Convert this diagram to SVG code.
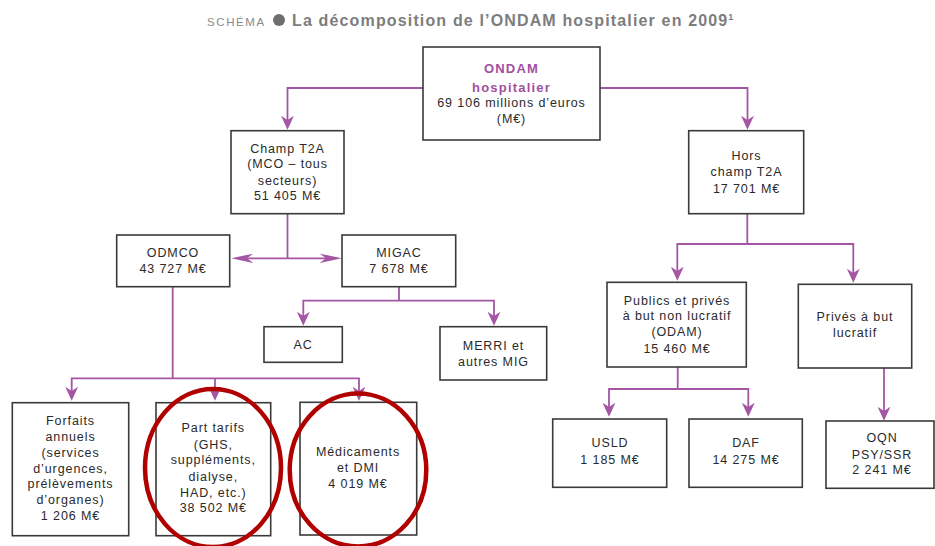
<svg xmlns="http://www.w3.org/2000/svg" width="935" height="546" viewBox="0 0 935 546">
<style>
  .box { fill: #ffffff; stroke: #3a3a3a; stroke-width: 1.6; }
  .t { font-family: "Liberation Sans", Arial, sans-serif; font-size: 12.5px; letter-spacing: 0.9px; fill: #2a2a2a; text-anchor: middle; }
  .tb { font-family: "Liberation Sans", Arial, sans-serif; font-size: 13px; letter-spacing: 1.2px; font-weight: bold; fill: #a24fa0; text-anchor: middle; }
  .conn { fill: none; stroke: #a456a4; stroke-width: 1.8; }
  .ring { fill: none; stroke: #b00000; stroke-width: 4.5; }
  .title { font-family: "Liberation Sans", Arial, sans-serif; font-weight: bold; font-size: 16px; letter-spacing: 1.15px; fill: #7d7d7d; }
  .schema { font-family: "Liberation Sans", Arial, sans-serif; font-size: 11.5px; letter-spacing: 1.6px; fill: #8a8a8a; }
</style>
<defs>
  <marker id="arr" markerUnits="userSpaceOnUse" markerWidth="14" markerHeight="13" viewBox="0 0 13 12" refX="4" refY="6" orient="auto-start-reverse">
    <path d="M0,0 L13,6 L0,12 L4,6 Z" fill="#a456a4"/>
  </marker>
  <marker id="arrlong" markerUnits="userSpaceOnUse" markerWidth="22" markerHeight="10" viewBox="0 0 21 9" refX="6" refY="4.5" orient="auto-start-reverse">
    <path d="M0,0 L21,4.5 L0,9 L6,4.5 Z" fill="#a456a4"/>
  </marker>
</defs>

<g id="title">
  <text class="schema" x="207" y="25.5">SCHÉMA</text>
  <circle cx="279" cy="20" r="6" fill="#6e6e6e"/>
  <text class="title" x="292" y="25.7">La décomposition de l’ONDAM hospitalier en 2009<tspan font-size="9" dy="-6" letter-spacing="0">1</tspan></text>
</g>

<g id="connectors">
  <path class="conn" d="M423,88 H287.5 V120" marker-end="url(#arr)"/>
  <path class="conn" d="M600,88 H747.5 V120" marker-end="url(#arr)"/>
  <path class="conn" d="M287.5,213.5 V258.3"/>
  <path class="conn" d="M247,258.3 H326" marker-start="url(#arrlong)" marker-end="url(#arrlong)"/>
  <path class="conn" d="M399,286.7 V300.7"/>
  <path class="conn" d="M303.3,316 V300.7 H494 V316" marker-start="url(#arr)" marker-end="url(#arr)"/>
  <path class="conn" d="M172.7,286.7 V378.3"/>
  <path class="conn" d="M71.7,391 V378.3 H359 V391" marker-start="url(#arr)" marker-end="url(#arr)"/>
  <path class="conn" d="M215,378.3 V391" marker-end="url(#arr)"/>
  <path class="conn" d="M747.3,213.7 V244"/>
  <path class="conn" d="M677.3,271 V244 H853.3 V273" marker-start="url(#arr)" marker-end="url(#arr)"/>
  <path class="conn" d="M677.7,367 V389"/>
  <path class="conn" d="M609,407 V389 H748.3 V407" marker-start="url(#arr)" marker-end="url(#arr)"/>
  <path class="conn" d="M884,368 V411" marker-end="url(#arr)"/>
</g>

<g id="ondam">
  <rect class="box" x="423" y="47" width="177" height="93"/>
  <text class="tb" x="511.5" y="73">ONDAM</text>
  <text class="tb" x="511.5" y="92">hospitalier</text>
  <text class="t" x="511.5" y="107">69 106 millions d’euros</text>
  <text class="t" x="511.5" y="123">(M€)</text>
</g>

<g id="champ-t2a">
  <rect class="box" x="231" y="130.7" width="113" height="83"/>
  <text class="t" x="287.5" y="153">Champ T2A</text>
  <text class="t" x="287.5" y="168">(MCO – tous</text>
  <text class="t" x="287.5" y="184.5">secteurs)</text>
  <text class="t" x="287.5" y="200">51 405 M€</text>
</g>

<g id="hors-champ">
  <rect class="box" x="688.7" y="130.7" width="115" height="83"/>
  <text class="t" x="746.5" y="159.5">Hors</text>
  <text class="t" x="746.5" y="176">champ T2A</text>
  <text class="t" x="746.5" y="192.5">17 701 M€</text>
</g>

<g id="odmco">
  <rect class="box" x="116.7" y="235" width="113" height="51.7"/>
  <text class="t" x="173" y="257">ODMCO</text>
  <text class="t" x="173" y="273">43 727 M€</text>
</g>

<g id="migac">
  <rect class="box" x="342" y="235" width="113.7" height="51.7"/>
  <text class="t" x="399" y="257">MIGAC</text>
  <text class="t" x="399" y="273">7 678 M€</text>
</g>

<g id="ac">
  <rect class="box" x="264" y="326.7" width="78.3" height="35.6"/>
  <text class="t" x="303" y="348.5">AC</text>
</g>

<g id="merri">
  <rect class="box" x="440" y="326.7" width="106.7" height="53.3"/>
  <text class="t" x="493.5" y="350">MERRI et</text>
  <text class="t" x="493.5" y="366">autres MIG</text>
</g>

<g id="forfaits">
  <rect class="box" x="12.3" y="402.7" width="116.4" height="133"/>
  <text class="t" x="70.5" y="424.5">Forfaits</text>
  <text class="t" x="70.5" y="440.5">annuels</text>
  <text class="t" x="70.5" y="456.5">(services</text>
  <text class="t" x="70.5" y="473">d’urgences,</text>
  <text class="t" x="70.5" y="488">prélèvements</text>
  <text class="t" x="70.5" y="504">d’organes)</text>
  <text class="t" x="70.5" y="520">1 206 M€</text>
</g>

<g id="part-tarifs">
  <rect class="box" x="156" y="402.7" width="114.7" height="133"/>
  <text class="t" x="213.3" y="432">Part tarifs</text>
  <text class="t" x="213.3" y="448.5">(GHS,</text>
  <text class="t" x="213.3" y="464">suppléments,</text>
  <text class="t" x="213.3" y="480.5">dialyse,</text>
  <text class="t" x="213.3" y="496.5">HAD, etc.)</text>
  <text class="t" x="213.3" y="512">38 502 M€</text>
</g>

<g id="medicaments">
  <rect class="box" x="300" y="402.3" width="116.7" height="132.7"/>
  <text class="t" x="358" y="456">Médicaments</text>
  <text class="t" x="358" y="472">et DMI</text>
  <text class="t" x="358" y="488">4 019 M€</text>
</g>

<g id="publics">
  <rect class="box" x="607" y="282.3" width="139.3" height="84.7"/>
  <text class="t" x="677" y="304.5">Publics et privés</text>
  <text class="t" x="677" y="320">à but non lucratif</text>
  <text class="t" x="677" y="336">(ODAM)</text>
  <text class="t" x="677" y="353">15 460 M€</text>
</g>

<g id="prives">
  <rect class="box" x="798.3" y="284.3" width="113.4" height="83.7"/>
  <text class="t" x="855" y="321">Privés à but</text>
  <text class="t" x="855" y="337">lucratif</text>
</g>

<g id="usld">
  <rect class="box" x="552.7" y="419" width="114" height="68.3"/>
  <text class="t" x="610" y="447">USLD</text>
  <text class="t" x="610" y="464">1 185 M€</text>
</g>

<g id="daf">
  <rect class="box" x="689" y="419" width="113.3" height="68.3"/>
  <text class="t" x="746" y="447">DAF</text>
  <text class="t" x="746" y="464">14 275 M€</text>
</g>

<g id="oqn">
  <rect class="box" x="826" y="421" width="108" height="67.3"/>
  <text class="t" x="882" y="442">OQN</text>
  <text class="t" x="882" y="459">PSY/SSR</text>
  <text class="t" x="882" y="474">2 241 M€</text>
</g>

<g id="highlights">
  <ellipse class="ring" cx="213" cy="468" rx="68" ry="79"/>
  <ellipse class="ring" cx="358" cy="470" rx="68.3" ry="76.5"/>
</g>
</svg>
